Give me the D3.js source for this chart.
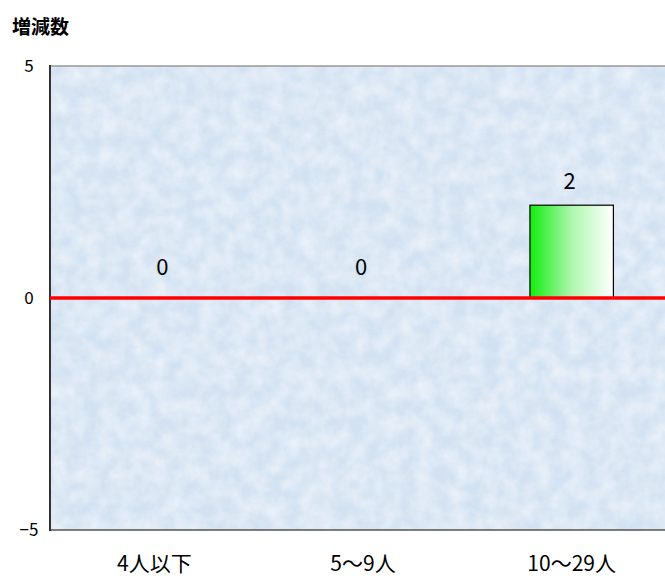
<!DOCTYPE html>
<html><head><meta charset="utf-8">
<script src="https://cdn.jsdelivr.net/npm/d3@7"></script>
<style>body{margin:0;background:#fff;}svg{display:block;}</style>
</head><body>
<svg id="c" width="665" height="578"></svg>
<script>
const categories = ["4人以下", "5〜9人", "10〜29人"];
const values = [0, 0, 2];
const yTicks = [-5, 0, 5];
const yTitle = "増減数";

(function () {
const svg = d3.select("#c");
const font = "'Noto Sans CJK JP', 'Noto Sans', sans-serif";
const mLeft = 50, mRight = 676, mTop = 66, mBottom = 530, clipRight = 665;

const x = d3.scaleBand().domain(categories).range([mLeft, mRight]).paddingInner(0.6).paddingOuter(0.3);
const y = d3.scaleLinear().domain([-5, 5]).range([mBottom, mTop]);

const defs = svg.append("defs");
const g = defs.append("linearGradient").attr("id", "bg").attr("x1", 0).attr("x2", 1).attr("y1", 0).attr("y2", 0);
g.append("stop").attr("offset", "0%").attr("stop-color", "#11ee11");
g.append("stop").attr("offset", "50%").attr("stop-color", "#aef6ae");
g.append("stop").attr("offset", "100%").attr("stop-color", "#ffffff");

const f = defs.append("filter").attr("id", "tex").attr("x", 0).attr("y", 0).attr("width", 1).attr("height", 1);
f.append("feTurbulence").attr("type", "fractalNoise").attr("baseFrequency", 0.06).attr("numOctaves", 4).attr("seed", 7).attr("result", "n");
f.append("feColorMatrix").attr("in", "n").attr("type", "matrix")
  .attr("values", "0 0 0 0 1  0 0 0 0 1  0 0 0 0 1  0 0 0 0.8 -0.22").attr("result", "w");
f.append("feComposite").attr("in", "w").attr("in2", "SourceGraphic").attr("operator", "over");

svg.append("rect").attr("x", mLeft).attr("y", mTop).attr("width", clipRight - mLeft).attr("height", mBottom - mTop)
  .attr("fill", "#d3e2f2").attr("filter", "url(#tex)");

svg.append("line").attr("x1", mLeft).attr("x2", clipRight).attr("y1", mTop).attr("y2", mTop).attr("stroke", "#999").attr("stroke-width", 1.5);
svg.append("line").attr("x1", mLeft).attr("x2", clipRight).attr("y1", mBottom).attr("y2", mBottom).attr("stroke", "#555").attr("stroke-width", 1.5);
svg.append("line").attr("x1", mLeft).attr("x2", mLeft).attr("y1", mTop - 1).attr("y2", mBottom + 1).attr("stroke", "#333").attr("stroke-width", 2);

svg.append("g").selectAll("text").data(yTicks).join("text")
  .attr("x", 29).attr("y", d => y(d)).attr("dy", "0.36em").attr("text-anchor", "middle")
  .attr("font-family", font).attr("font-size", 17).attr("fill", "#000")
  .text(d => d < 0 ? "\u2212" + Math.abs(d) : d);

svg.append("g").selectAll("rect").data(values.map((v, i) => ({c: categories[i], v})).filter(d => d.v !== 0)).join("rect")
  .attr("x", d => x(d.c)).attr("width", x.bandwidth())
  .attr("y", d => y(Math.max(0, d.v))).attr("height", d => Math.abs(y(d.v) - y(0)))
  .attr("fill", "url(#bg)").attr("stroke", "#000").attr("stroke-width", 1.2);

svg.append("line").attr("x1", mLeft).attr("x2", clipRight).attr("y1", y(0)).attr("y2", y(0)).attr("stroke", "#ff0000").attr("stroke-width", 3.5);

svg.append("g").selectAll("text").data(values.map((v, i) => ({c: categories[i], v}))).join("text")
  .attr("x", d => x(d.c) + x.bandwidth() / 2 + (d.v === 0 && d.c === categories[0] ? 8 : -2))
  .attr("y", d => (d.v === 0 ? y(0) - 23 : y(d.v) - 16))
  .attr("text-anchor", "middle").attr("font-family", font).attr("font-size", 22).attr("fill", "#000")
  .text(d => d.v);

svg.append("g").selectAll("text").data(categories).join("text")
  .attr("x", d => x(d) + x.bandwidth() / 2).attr("y", 571)
  .attr("text-anchor", "middle").attr("font-family", font).attr("font-size", 21).attr("fill", "#000")
  .text(d => d);

svg.append("text").attr("x", 12).attr("y", 34).attr("font-family", font).attr("font-size", 19).attr("font-weight", "bold")
  .text(yTitle);
})();
</script>
</body></html>
